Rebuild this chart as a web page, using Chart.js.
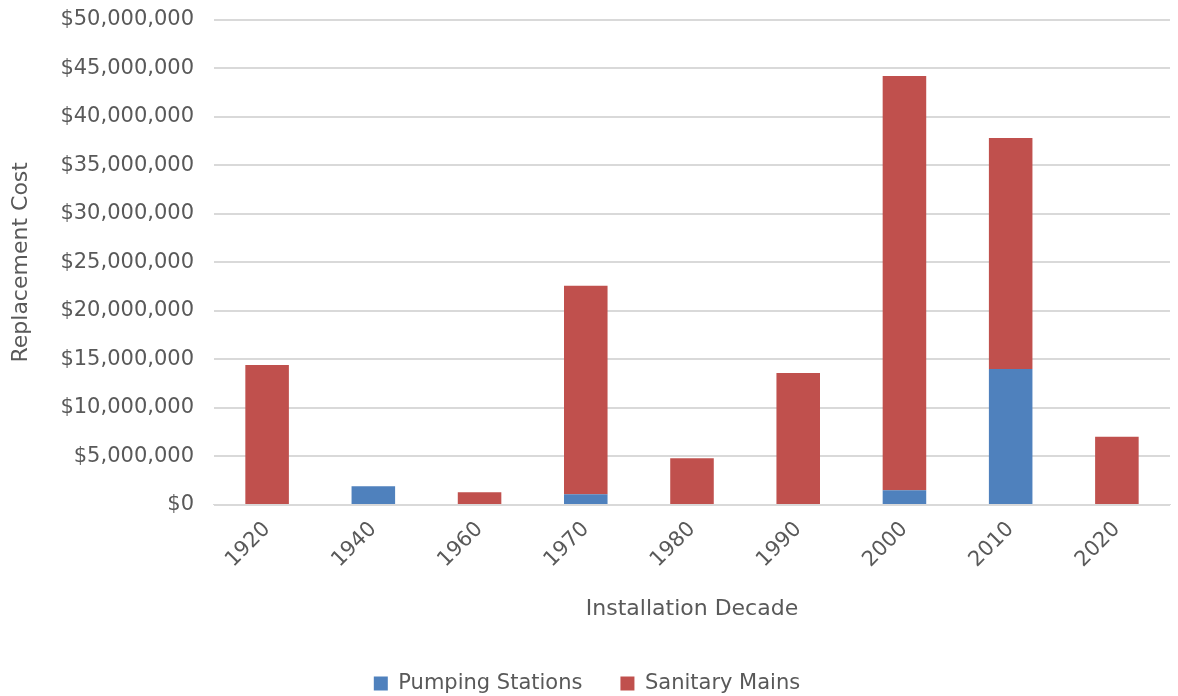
<!DOCTYPE html>
<html lang="en">
<head>
    <meta charset="UTF-8">
    <title>Replacement Cost by Installation Decade</title>
    <script src="https://cdn.jsdelivr.net/npm/chart.js"></script>
    <style>
        body { margin: 0; background: #fff; overflow: hidden; }
        #costChart { display: block; margin-top: -13px; }
    </style>
</head>
<body>
    <canvas id="costChart" width="1178" height="717"></canvas>
    <script>
        // Data
        const decades = ['1920', '1940', '1960', '1970', '1980', '1990', '2000', '2010', '2020'];
        const pumpingStations = [0, 1930000, 0, 1100000, 0, 0, 1520000, 14020000, 0];
        const sanitaryMains = [14430000, 0, 1310000, 21480000, 4810000, 13600000, 42680000, 23780000, 7040000];

        const textColor = '#595959';
        const fontFamily = '"DejaVu Sans", sans-serif';

        const ctx = document.getElementById('costChart').getContext('2d');
        const costChart = new Chart(ctx, {
            type: 'bar',
            data: {
                labels: decades,
                datasets: [{
                    label: 'Pumping Stations',
                    data: pumpingStations,
                    backgroundColor: '#4F81BD',
                    categoryPercentage: 1,
                    barPercentage: 0.41
                }, {
                    label: 'Sanitary Mains',
                    data: sanitaryMains,
                    backgroundColor: '#C0504D',
                    categoryPercentage: 1,
                    barPercentage: 0.41
                }]
            },
            options: {
                responsive: false,
                animation: false,
                layout: { padding: { top: 0, right: 8, left: 4, bottom: 0 } },
                plugins: {
                    legend: {
                        position: 'bottom',
                        labels: {
                            color: textColor,
                            font: { family: fontFamily, size: 21 },
                            boxWidth: 14,
                            boxHeight: 14,
                            padding: 38
                        }
                    },
                    tooltip: { enabled: false }
                },
                scales: {
                    x: {
                        stacked: true,
                        grid: { display: false },
                        border: { color: '#d9d9d9', width: 1 },
                        ticks: {
                            color: textColor,
                            font: { family: fontFamily, size: 21 },
                            maxRotation: 45,
                            minRotation: 45,
                            padding: 4
                        },
                        title: {
                            display: true,
                            text: 'Installation Decade',
                            color: textColor,
                            font: { family: fontFamily, size: 22 },
                            padding: { top: 19, bottom: 13 }
                        }
                    },
                    y: {
                        stacked: true,
                        min: 0,
                        max: 50000000,
                        border: { display: false },
                        grid: {
                            color: '#d9d9d9',
                            lineWidth: 2,
                            drawTicks: false
                        },
                        ticks: {
                            stepSize: 5000000,
                            color: textColor,
                            font: { family: fontFamily, size: 21 },
                            padding: 20,
                            callback: function (value) {
                                return '$' + value.toLocaleString('en-US');
                            }
                        },
                        title: {
                            display: true,
                            text: 'Replacement Cost',
                            color: textColor,
                            font: { family: fontFamily, size: 22 },
                            padding: { bottom: 6 }
                        }
                    }
                }
            }
        });
    </script>
</body>
</html>
